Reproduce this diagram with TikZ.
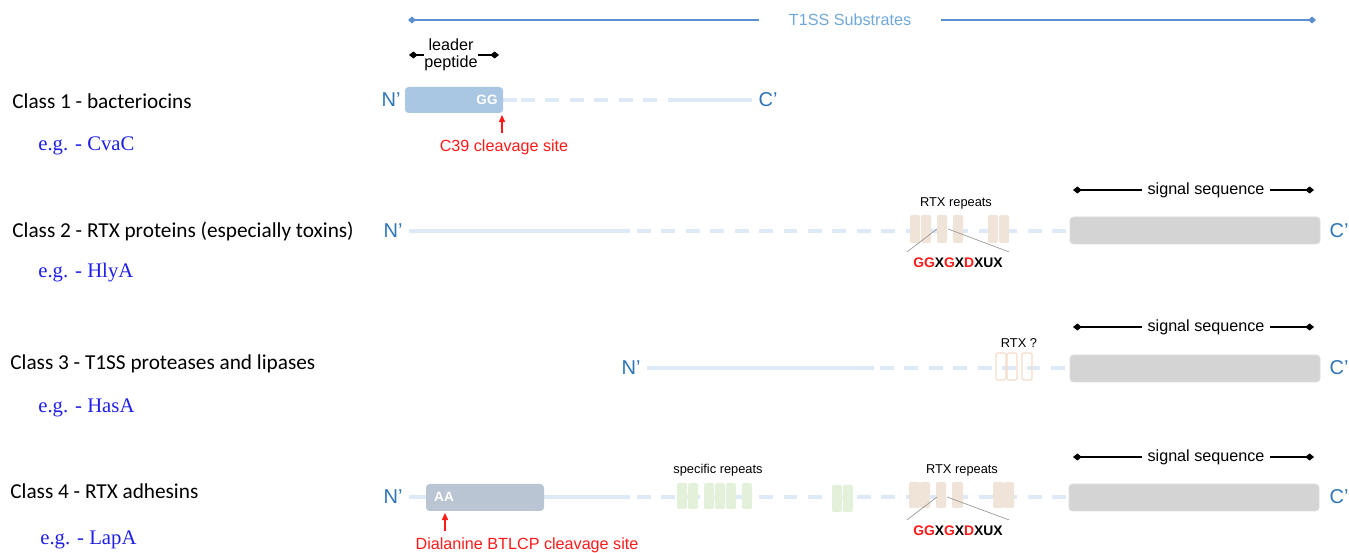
\documentclass[tikz,border=0pt]{standalone}
\usepackage{fontspec}
\setmainfont{Liberation Sans}
\newfontfamily\classfont{Carlito}
\newfontfamily\egfont{Liberation Serif}
\usetikzlibrary{arrows.meta,positioning}
\definecolor{Head}{HTML}{5B8FD0}
\definecolor{HeadTxt}{HTML}{6FA8DC}
\definecolor{Term}{HTML}{2E75B6}
\definecolor{Track}{HTML}{DDE9F7}
\definecolor{LeadA}{HTML}{A9C6E2}
\definecolor{LeadB}{HTML}{B9C5D3}
\definecolor{Sig}{HTML}{D4D4D4}
\definecolor{Rtx}{HTML}{F0E4D8}
\definecolor{RtxLine}{HTML}{F3DCC8}
\definecolor{Rep}{HTML}{E3F0DA}
\definecolor{Cut}{HTML}{FF1A1A}
\definecolor{Eg}{HTML}{1F1FE8}

\tikzset{
  track/.style={Track,line width=2.5pt},
  dashtrack/.style={track,dash pattern=on 7.9pt off 6pt},
  term/.style={font=\fontsize{11.4}{13}\selectfont,text=Term},
  lbl/.style={font=\fontsize{9.2}{11}\selectfont},
  tiny/.style={font=\fontsize{7.3}{9}\selectfont},
  motif/.style={font=\bfseries\fontsize{7.9}{9}\selectfont},
  tag/.style={font=\bfseries\fontsize{7.7}{9}\selectfont,text=white},
  classlbl/.style={font=\classfont\fontsize{12.1}{14}\selectfont,anchor=west,inner xsep=0pt},
  eglbl/.style={font=\egfont\fontsize{11.8}{14}\selectfont,text=Eg,anchor=west,inner xsep=0pt},
  cutarrow/.style={Cut,line width=0.6pt,-{Triangle[length=4pt,width=3.5pt]}},
  bracket/.style={line width=0.6pt},
  sigbox/.style={fill=Sig,draw=Sig!80!white,rounded corners=2pt},
  rtx/.style={fill=Rtx,rounded corners=0.8pt},
  rep/.style={fill=Rep,rounded corners=0.8pt},
  pin/.style={gray!80,line width=0.4pt}
}

\begin{document}
\begin{tikzpicture}[x=0.02cm,y=-0.02cm]
  \useasboundingbox (0,0) rectangle (1349,553);

  % header
  \node[lbl,text=HeadTxt,inner xsep=17pt] (title) at (850,20) {T1SS Substrates};
  \coordinate (topl) at (408,20);
  \coordinate (topr) at (1316,20);
  \draw[Head,line width=0.7pt,{Diamond[length=4.5pt,width=4pt]}-] (topl) -- (title.west);
  \draw[Head,line width=0.7pt,-{Diamond[length=4.5pt,width=4pt]}] (title.east) -- (topr);

  % class labels
  \node[classlbl] (c1) at (12,101) {Class 1 - bacteriocins};
  \node[eglbl] (e1) at (38,146) {e.g. - CvaC};
  \node[classlbl] (c2) at (12,231) {Class 2 - RTX proteins (especially toxins)};
  \node[eglbl] (e2) at (38,273) {e.g. - HlyA};
  \node[classlbl] (c3) at (10,364) {Class 3 - T1SS proteases and lipases};
  \node[eglbl] (e3) at (38,408) {e.g. - HasA};
  \node[classlbl] (c4) at (10,491) {Class 4 - RTX adhesins};
  \node[eglbl] (e4) at (40,540) {e.g. - LapA};

  % class 1
  \node[lbl,align=center,inner xsep=0pt,inner ysep=1pt] (lead) at (451,55) {leader\\[-1pt]peptide};
  \coordinate (ldl) at (409,55);
  \coordinate (ldr) at (499,55);
  \draw[bracket,{Diamond[length=5pt,width=4pt]}-] (ldl) -- (lead.west);
  \draw[bracket,-{Diamond[length=5pt,width=4pt]}] (lead.east) -- (ldr);
  \node[term] (n1) at (391,100) {N'};
  \node[term] (k1) at (768,100) {C'};
  \draw[track] (503,100) -- (517,100);
  \draw[dashtrack] (521,100) -- (662,100);
  \draw[track] (668,100) -- (k1.west);
  \fill[LeadA,rounded corners=2pt] (405,87) rectangle (503,113);
  \node[tag] (gg) at (487,100) {GG};
  \node[lbl,text=Cut] (site1) at (504,147) {C39 cleavage site};
  \coordinate (cut1) at (502,115);
  \draw[cutarrow] (site1.north -| cut1) -- (cut1);

  % class 2
  \node[lbl,fill=white,inner xsep=3pt] (sig2) at (1206,190) {signal sequence};
  \draw[bracket,{Diamond[length=5pt,width=4pt]}-] (1073,190) -- (sig2.west);
  \draw[bracket,-{Diamond[length=5pt,width=4pt]}] (sig2.east) -- (1314,190);
  \node[term] (n2) at (393,231) {N'};
  \node[term] (k2) at (1339,231) {C'};
  \draw[track] (n2.east) -- (630,231);
  \draw[dashtrack] (637,231) -- (1070,231);
  \foreach \xa/\xb in {910/920,921/931,937/947,953/963,988/998,999/1009}
    \fill[rtx] (\xa,215) rectangle (\xb,243);
  \node[tiny] (rtx2) at (956,203) {RTX repeats};
  \fill[sigbox] (1070,217) rectangle (1320,244);
  \node[motif] (m2) at (958,263) {{\color{Cut}GG}X{\color{Cut}G}X{\color{Cut}D}XUX};
  \draw[pin] (937,229) -- (m2.north west);
  \draw[pin] (948,229) -- (m2.north east);

  % class 3
  \node[lbl,fill=white,inner xsep=3pt] (sig3) at (1206,327) {signal sequence};
  \draw[bracket,{Diamond[length=5pt,width=4pt]}-] (1073,327) -- (sig3.west);
  \draw[bracket,-{Diamond[length=5pt,width=4pt]}] (sig3.east) -- (1314,327);
  \node[term] (n3) at (631,368) {N'};
  \node[term] (k3) at (1339,368) {C'};
  \draw[track] (n3.east) -- (874,368);
  \draw[dashtrack] (880,368) -- (1070,368);
  \foreach \xa/\xb in {996/1006,1007/1017,1022/1032}
    \draw[RtxLine,line width=0.6pt,rounded corners=0.8pt] (\xa,353) rectangle (\xb,380);
  \node[tiny] (rtx3) at (1019,343) {RTX ?};
  \fill[sigbox] (1070,355) rectangle (1320,382);

  % class 4
  \node[lbl,fill=white,inner xsep=3pt] (sig4) at (1206,457) {signal sequence};
  \draw[bracket,{Diamond[length=5pt,width=4pt]}-] (1073,457) -- (sig4.west);
  \draw[bracket,-{Diamond[length=5pt,width=4pt]}] (sig4.east) -- (1314,457);
  \node[term] (n4) at (393,497) {N'};
  \node[term] (k4) at (1339,497) {C'};
  \draw[track] (n4.east) -- (630,497);
  \draw[dashtrack] (637,497) -- (1070,497);
  \fill[LeadB,rounded corners=2pt] (426,484) rectangle (544,511);
  \node[tag] (aa) at (444,497) {AA};
  \foreach \xa/\xb in {677/687,688/698,704/714,715/725,726/736,742/752}
    \fill[rep] (\xa,483) rectangle (\xb,509);
  \foreach \xa/\xb in {832/842,843/853}
    \fill[rep] (\xa,485) rectangle (\xb,512);
  \node[tiny] (spec) at (718,470) {specific repeats};
  \foreach \xa/\xb in {909/920,920/930,936/946,952/963,993/1004,1004/1014}
    \fill[rtx] (\xa,482) rectangle (\xb,508);
  \node[tiny] (rtx4) at (962,470) {RTX repeats};
  \fill[sigbox] (1069,484) rectangle (1319,511);
  \node[motif] (m4) at (958,531) {{\color{Cut}GG}X{\color{Cut}G}X{\color{Cut}D}XUX};
  \draw[pin] (937,497) -- (m4.north west);
  \draw[pin] (947,497) -- (m4.north east);
  \node[lbl,text=Cut] (site4) at (527,545) {Dialanine BTLCP cleavage site};
  \coordinate (cut4) at (445,513);
  \draw[cutarrow] (site4.north -| cut4) -- (cut4);
\end{tikzpicture}
\end{document}
